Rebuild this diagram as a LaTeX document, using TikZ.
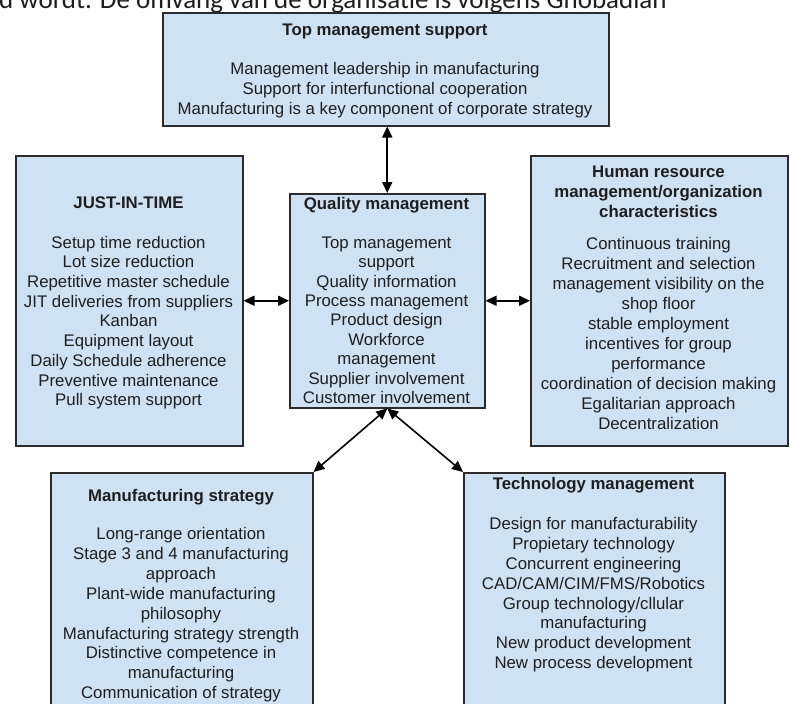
\documentclass[tikz,border=0pt]{standalone}
\usepackage{fontspec}
\setmainfont{Liberation Sans}
\newfontfamily\introfont{Carlito}
\usetikzlibrary{arrows.meta}
\definecolor{boxfill}{HTML}{CFE2F3}
\definecolor{boxline}{HTML}{2B2B2B}
\definecolor{ink}{HTML}{1E1E1E}
\tikzset{
  panel/.style={draw=boxline, fill=boxfill, line width=1.5pt, inner sep=0pt, anchor=north west},
  body/.style={text=ink, align=center, inner sep=0pt, anchor=north,
               font=\fontsize{16.8pt}{19.7pt}\selectfont},
  link/.style={draw=black, line width=1.6pt,
               {Triangle[length=11pt,width=10pt]}-{Triangle[length=11pt,width=10pt]}},
}
\begin{document}
\begin{tikzpicture}[x=1pt,y=-1pt]
\useasboundingbox (0,0) rectangle (790,704);
\clip (0,0) rectangle (790,704);
\fill[white] (0,0) rectangle (790,704);

% running text line above the figure
\node[anchor=base west, inner sep=0pt, text=ink, font=\introfont\fontsize{27pt}{30pt}\selectfont]
  (intro) at (-1,8.5) {d wordt. De omvang van de organisatie is volgens Ghobadian};

% boxes
\node[panel, minimum width=446pt, minimum height=113pt] (top)  at (162,12)  {};
\node[panel, minimum width=227pt, minimum height=290pt] (jit)  at (15,155)  {};
\node[panel, minimum width=195pt, minimum height=214pt] (qm)   at (289,193) {};
\node[panel, minimum width=257pt, minimum height=290pt] (hr)   at (530,155) {};
\node[panel, minimum width=262pt, minimum height=260pt] (ms)   at (50,472)  {};
\node[panel, minimum width=261pt, minimum height=260pt] (tech) at (463,472) {};

% box texts
\node[body] (top-t) at (385,24) {{\bfseries Top management support}\\[19.5pt]
  Management leadership in manufacturing\\
  Support for interfunctional cooperation\\
  Manufacturing is a key component of corporate strategy};

\node[body] (jit-t) at (128.5,197) {{\bfseries JUST-IN-TIME}\\[19.5pt]
  Setup time reduction\\
  Lot size reduction\\
  Repetitive master schedule\\
  JIT deliveries from suppliers\\
  Kanban\\
  Equipment layout\\
  Daily Schedule adherence\\
  Preventive maintenance\\
  Pull system support};

\node[body, font=\fontsize{16.8pt}{19.4pt}\selectfont] (qm-t) at (386.5,197) {{\bfseries Quality management}\\[19.5pt]
  Top management\\
  support\\
  Quality information\\
  Process management\\
  Product design\\
  Workforce\\
  management\\
  Supplier involvement\\
  Customer involvement};

\node[body, font=\fontsize{16.8pt}{20pt}\selectfont] (hr-t) at (658.5,166) {{\bfseries Human resource}\\
  {\bfseries management/organization}\\
  {\bfseries characteristics}\\[11.7pt]
  Continuous training\\
  Recruitment and selection\\
  management visibility on the\\
  shop floor\\
  stable employment\\
  incentives for group\\
  performance\\
  coordination of decision making\\
  Egalitarian approach\\
  Decentralization};

\node[body, font=\fontsize{16.8pt}{19.9pt}\selectfont] (ms-t) at (181,489) {{\bfseries Manufacturing strategy}\\[18.3pt]
  Long-range orientation\\
  Stage 3 and 4 manufacturing\\
  approach\\
  Plant-wide manufacturing\\
  philosophy\\
  Manufacturing strategy strength\\
  Distinctive competence in\\
  manufacturing\\
  Communication of strategy};

\node[body, font=\fontsize{16.8pt}{19.9pt}\selectfont] (tech-t) at (593.5,477) {{\bfseries Technology management}\\[20.2pt]
  Design for manufacturability\\
  Propietary technology\\
  Concurrent engineering\\
  CAD/CAM/CIM/FMS/Robotics\\
  Group technology/cllular\\
  manufacturing\\
  New product development\\
  New process development};

% connectors
\draw[link] (qm.north |- top.south) -- (qm.north);
\draw[link] (jit.east) -- (qm.west);
\draw[link] (qm.east) -- (hr.west);
\draw[link] (qm.south) -- (ms.north east);
\draw[link] (qm.south) -- (tech.north west);
\end{tikzpicture}
\end{document}
